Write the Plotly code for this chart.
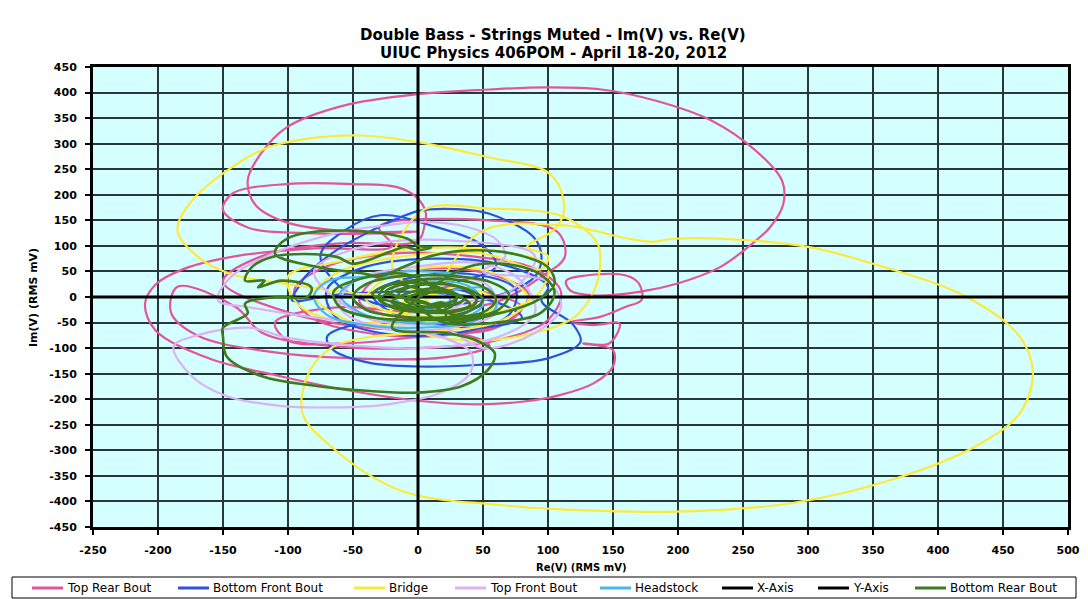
import plotly.graph_objects as go

# ---- Top Rear Bout ----
top_rear_re = [0, 25, 45, 25, -15, -45, -35, 5, 55, 85, 70, 20, -40, -85, -95, -70, -20, 40, 90, 110, 100, 60, 0, -70, -120, -140,
               -185, -190, -170, -120, -50, 20, 55, 30, -40, -100, -150, -120, -60, 0, 5, 6, -1, -16, -50, -101, -143, -150, -130, -87, -40, 0,
               -50, -100, -125, -131, -121, -101, -58, 0, 55, 98, 141, 183, 226, 260, 280, 281, 271, 254, 232, 199, 170, 135, 117, 114, 129, 160, 170, 172, 160, 140, 117,
               135, 155, 147, 127, 150, 150, 135, 109, 80, 45, 0, -51, -106, -161, -202, -210, -202, -180, -140, -80, -20, -30, 55, 107, 113, 95,
               60, 0, -60, -110, -100, -50, 10, 60, 80, 50]
top_rear_im = [0, 20, -5, -35, -40, -10, 30, 55, 45, 5, -45, -75, -70, -35, 15, 60, 85, 80, 55, 10, -45, -85, -100, -95, -70, -20,
               20, -30, -75, -105, -120, -118, -95, -70, -60, -30, 30, 80, 105, 110, 140, 165, 195, 215, 221, 221, 202, 170, 135, 125, 124, 128,
               128, 145, 180, 228, 280, 332, 374, 397, 406, 410, 406, 384, 345, 286, 228, 182, 137, 98, 58, 26, 10, 3, 13, 32, 42, 42, 26, -6, -19, -39, -49,
               -55, -52, -91, -91, -104, -136, -169, -192, -205, -210, -203, -184, -155, -120, -65, -14, 24, 55, 80, 95, 100, 137, 150, 128, 79, 40,
               -10, -30, -20, -50, -85, -90, -75, -60, -20, 10]

# ---- Bottom Front Bout ----
bottom_front_re = [0, 30, 50, 20, -20, -35, -10, 40, 75, 70, 30, -30, -65, -70, -45, 10, 70, 100, 95, 119, 125, 100, 45, 0, -37, -65, -70, -50, 0,
                   50, 80, 60, 0, -60, -97, -92, -87, -67, -41, 0, 30, 55, 89, 95, 90, 70, 30, -20, -60, -75, -56, -29, 10, 50, 60, 30]
bottom_front_im = [0, 15, -10, -40, -30, 5, 35, 45, 15, -35, -70, -70, -35, 15, 55, 75, 60, 20, -8, -53, -88, -120, -133, -136, -129, -104, -78, -55, -50,
                   -60, -40, -10, 10, 5, -6, 19, 39, 84, 123, 168, 172, 163, 117, 79, 40, 10, -15, -20, 20, 82, 131, 160, 140, 100, 60, 30]

# ---- Bridge ----
bridge_re = [0, 20, 45, 30, -10, -40, -25, 20, 65, 85, 60, 0, -55, -80, -60, -10, 50, 95, 100, 84, 104, 112, 109, 98, 55, 0, -44, -87, -115, -143,
             -174, -185, -169, -144, -100, -40, 0, -20, 4, 55, 112, 138, 140, 135, 120, 90, 40, 0, 20, 50, 112, 160, 180, 197, 254, 300, 350, 422,
             463, 473, 463, 429, 365, 288, 212, 147, 63, -14, -68, -89, -83, -65, -37, 0, 40, 60, 30,
             -30, -90, -100, -60, 0, 60, 100, 90, 40, -30, -10, 20]
bridge_im = [0, 25, 5, -30, -35, -5, 35, 60, 40, -5, -50, -65, -45, 5, 50, 80, 85, 55, 80, 98, 130, 163, 215, 247, 273, 303, 316, 309, 293, 254,
             188, 130, 78, 45, 25, 5, 0, 60, 170, 173, 157, 105, 60, 10, -40, -70, -85, -60, 40, 130, 140, 115, 108, 114, 111, 98, 65, 0,
             -78, -149, -227, -292, -357, -403, -419, -419, -407, -378, -290, -226, -143, -97, -78, -70, -50, -10, 20,
             -50, -20, 40, 70, 95, 90, 60, 0, -40, -50, -10, 10]

# ---- Top Front Bout ----
top_front_re = [0, 20, 35, 10, -20, -15, 20, 55, 60, 25, -30, -60, -50, 0, 50, 80, 90, 60, 0, -50, -100, -130, -170, -188, -174, -147, -106, -65, -23,
                18, 40, 41, 20, -20, -80, -130, -154, -144, -118, -92, -54, -15, 0, 38, 61, 67, 50, 100, 110, 90, 50, 20,
                -40, -80, -40, 30, 90, 70, 20]
top_front_im = [0, 15, -10, -30, -15, 20, 40, 20, -30, -60, -60, -20, 30, 60, 65, 30, -30, -80, -100, -95, -80, -60, -75, -97, -155, -194, -213, -216, -210,
                -187, -149, -110, -80, -60, -40, -20, -6, 39, 78, 104, 130, 143, 147, 137, 111, 79, 50, 30, -20, -70, -100, -60,
                -40, 50, 100, 110, 80, 10, -10]

# ---- Headstock ----
headstock_re = [0, 15, 25, 10, -15, -20, 5, 40, 50, 30, -10, -45, -60, -45, -10, 30, -30, -70, -80, -70, -40, 0, 40, 60, 55, 20]
headstock_im = [0, 10, -5, -20, -10, 15, 30, 20, -15, -45, -50, -30, 5, 35, 50, 45, 40, 30, 0, -35, -55, -60, -50, -20, 15, 10]

# ---- Bottom Rear Bout ----
bottom_rear_re = [0, 15, 30, 20, 0, -15, -5, 20, 40, 45, 30, 5, -20, -30, -25, -5, 25, 50, 60, 50, 20, -15, -40, -50, -40, -15, 20, 55, 70, 62,
                  35, 0, -35, -60, -65, -45, -10, 10, -10, 10, 35, 20, -5, -20, 0, 25, 30, 10,
                  -20, -35, -10, 15, 40, 20, -5, -25, 5, 30, 50, 25, -10, -30, -5, 20,
                  23, 62, 92, 105, 100, 74, 38, 10, -10, -30, -40, -80, -110, -100, -54, -8, 0, 10, 0, -10, -20,
                  -50, -62, -87, -113, -128, -133, -118, -123, -105, -82, -85, -108, -133, -131, -150, -150, -147, -120, -78, -37, 0, 34, 54, 59, 45, 20, -20,
                  40, 90, 105, 95, 60, 20, 0]
bottom_rear_im = [0, 12, 0, -15, -10, 5, 20, 25, 10, -10, -28, -30, -20, 0, 20, 32, 35, 20, -5, -30, -40, -38, -25, 0, 25, 40, 42, 30, 5, -25,
                  -42, -45, -40, -20, 10, 35, 45, 20, -5, -20, -5, 15, 10, -10, -25, -20, 5, 10,
                  25, 5, -15, -30, -15, 15, 28, 10, -10, -35, -5, 25, 18, -5, -25, -12,
                  -45, -32, -6, 26, 58, 84, 91, 80, 60, 40, 45, 60, 85, 115, 130, 114, 100, 97, 92, 98, 90,
                  65, 78, 84, 78, 58, 32, 32, 19, 32, 19, 0, 0, -13, -32, -60, -78, -117, -155, -174, -184, -187, -174, -142, -110, -85, -70, -60,
                  60, 50, 10, -30, -50, -50, -20]

x_axis_re = [-250, 500]
x_axis_im = [0, 0]
y_axis_re = [0, 0]
y_axis_im = [-450, 450]

x_ticks = list(range(-250, 501, 50))
y_ticks = list(range(-450, 451, 50))

series = [
    ("Top Rear Bout", top_rear_re, top_rear_im, "#e2559a", 2.2, "spline"),
    ("Bottom Front Bout", bottom_front_re, bottom_front_im, "#2f50e0", 2.2, "spline"),
    ("Bridge", bridge_re, bridge_im, "#fde93c", 2.2, "spline"),
    ("Top Front Bout", top_front_re, top_front_im, "#dcb2f6", 2.2, "spline"),
    ("Headstock", headstock_re, headstock_im, "#47b8ec", 2.2, "spline"),
    ("X-Axis", x_axis_re, x_axis_im, "#000000", 3, "linear"),
    ("Y-Axis", y_axis_re, y_axis_im, "#000000", 3, "linear"),
    ("Bottom Rear Bout", bottom_rear_re, bottom_rear_im, "#3f7a1c", 2.6, "spline"),
]

FONT = "DejaVu Sans, Verdana, sans-serif"

# plot area in pixels
PL, PR, PT, PB = 93, 1068, 67, 527


def px_x(px):
    return (px - PL) / (PR - PL)


def px_y(py):
    return (PB - py) / (PB - PT)


fig = go.Figure()
for name, xs, ys, color, width, shape in series:
    fig.add_trace(go.Scatter(
        x=xs, y=ys, mode="lines", name=name, showlegend=False,
        line=dict(color=color, width=width, shape=shape, smoothing=1.0),
    ))

# boxed legend strip under the chart
shapes = [dict(type="rect", xref="paper", yref="paper",
               x0=px_x(12), x1=px_x(1076), y0=px_y(598), y1=px_y(577),
               line=dict(color="black", width=1), fillcolor="white", layer="above")]
annotations = []
legend_line_start = [32, 178, 354, 455, 600, 722, 818, 915]
ly = px_y(588)
for (name, _, _, color, _, _), lx in zip(series, legend_line_start):
    shapes.append(dict(type="line", xref="paper", yref="paper",
                       x0=px_x(lx), x1=px_x(lx + 31), y0=ly, y1=ly,
                       line=dict(color=color, width=3), layer="above"))
    annotations.append(dict(text=name, xref="paper", yref="paper",
                            x=px_x(lx + 33), y=ly, xanchor="left", yanchor="middle",
                            showarrow=False, font=dict(size=12, family=FONT, color="black")))

# axis titles
annotations.append(dict(text="<b>Re(V) (RMS mV)</b>", xref="paper", yref="paper",
                        x=px_x(581), y=px_y(567), xanchor="center", yanchor="middle",
                        showarrow=False, font=dict(size=10, family=FONT)))
annotations.append(dict(text="<b>Im(V) (RMS mV)</b>", xref="paper", yref="paper",
                        x=px_x(33), y=px_y(298), xanchor="center", yanchor="middle", textangle=-90,
                        showarrow=False, font=dict(size=11, family=FONT)))

# two-line chart title
annotations.append(dict(text="<b>Double Bass - Strings Muted - Im(V) vs. Re(V)</b>", xref="paper", yref="paper",
                        x=px_x(553), y=px_y(35), xanchor="center", yanchor="middle",
                        showarrow=False, font=dict(size=15, family=FONT)))
annotations.append(dict(text="<b>UIUC Physics 406POM - April 18-20, 2012</b>", xref="paper", yref="paper",
                        x=px_x(553), y=px_y(53), xanchor="center", yanchor="middle",
                        showarrow=False, font=dict(size=15, family=FONT)))

fig.update_layout(
    width=1088, height=599,
    margin=dict(l=PL, r=1088 - PR, t=PT, b=599 - PB, autoexpand=False),
    paper_bgcolor="white",
    plot_bgcolor="#d4ffff",
    font=dict(family=FONT, color="black"),
    xaxis=dict(
        range=[-250, 500], tickvals=x_ticks, ticktext=[f"<b>{v}</b>" for v in x_ticks],
        showgrid=True, gridcolor="#263838", gridwidth=1.6,
        zeroline=False, showline=True, linecolor="black", linewidth=3, mirror=True,
        ticks="outside", ticklen=5, tickcolor="black", tickwidth=1.5, ticklabelstandoff=6,
        tickfont=dict(size=11, family=FONT),
    ),
    yaxis=dict(
        range=[-450, 450], tickvals=y_ticks, ticktext=[f"<b>{v}</b>" for v in y_ticks],
        showgrid=True, gridcolor="#263838", gridwidth=1.6,
        zeroline=False, showline=True, linecolor="black", linewidth=3, mirror=True,
        ticks="outside", ticklen=5, tickcolor="black", tickwidth=1.5, ticklabelstandoff=6,
        tickfont=dict(size=11, family=FONT),
    ),
    shapes=shapes,
    annotations=annotations,
    showlegend=False,
)

fig.write_html("out.html")
